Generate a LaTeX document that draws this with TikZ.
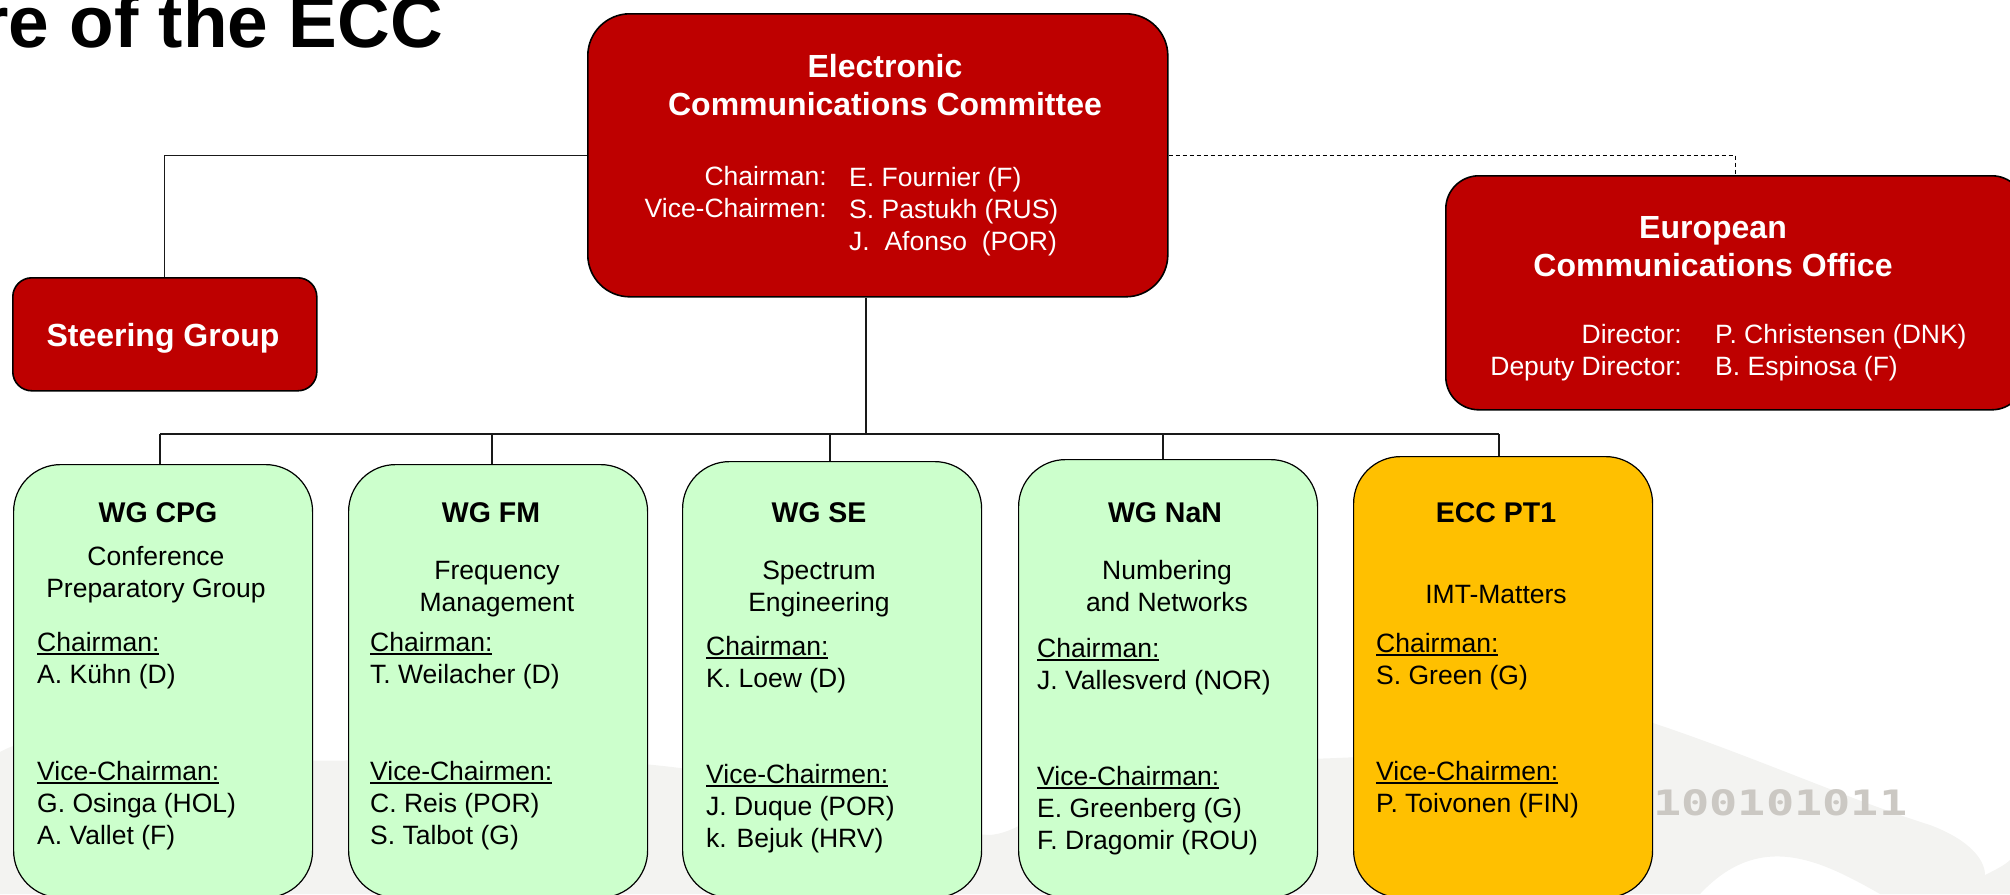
\documentclass[tikz,border=0pt]{standalone}
\usepackage{fontspec}
\setmainfont{Liberation Sans}
\newfontfamily\monofam{DejaVu Sans Mono}
\definecolor{eccred}{HTML}{BE0000}
\definecolor{wggreen}{HTML}{CCFFCC}
\definecolor{ptorange}{HTML}{FFC000}
\definecolor{wavegray}{HTML}{F3F3F1}
\definecolor{bitgray}{HTML}{CBC8C3}
\newcommand\ulined[1]{\setbox0\hbox{#1}\rlap{\raisebox{-3.6pt}{\vrule width\wd0 height 1.7pt depth 0pt}}\box0}
\tikzset{
  x=1pt,y=-1pt,
  redbox/.style={draw=black,line width=1.6pt,fill=eccred,inner sep=0,anchor=north west},
  wgbox/.style={draw=black,line width=1.2pt,fill=wggreen,inner sep=0,anchor=north west,rounded corners=47pt,minimum width=299pt},
  body/.style={inner sep=0,font=\fontsize{26.5}{32}\selectfont},
  head/.style={inner sep=0,anchor=base,font=\fontsize{28.5}{34}\selectfont\bfseries},
  redhead/.style={inner sep=0,anchor=base,text=white,font=\fontsize{32}{38}\selectfont\bfseries},
  tl/.style={body,anchor=base west},
  tr/.style={body,anchor=base east},
  tc/.style={body,anchor=base},
  wtl/.style={tl,text=white},
  wtr/.style={tr,text=white},
  conn/.style={line width=1.2pt,draw=black!90},
  dashconn/.style={line width=1.1pt,draw=black,dash pattern=on 4pt off 3pt},
}
\begin{document}
\begin{tikzpicture}
\path[use as bounding box] (0,0) rectangle (2010,894);
% faint background wave
\fill[wavegray] (0,752) .. controls (30,735) and (60,742) .. (120,750)
  .. controls (300,775) and (500,745) .. (680,768)
  .. controls (800,790) and (900,830) .. (990,835)
  .. controls (1040,830) and (1060,775) .. (1140,765)
  .. controls (1250,755) and (1400,770) .. (1650,722)
  .. controls (1750,755) and (1850,800) .. (1930,825)
  .. controls (1970,840) and (1985,860) .. (1985,875)
  .. controls (1995,870) and (2005,865) .. (2010,860)
  -- (2010,894) -- (1880,894) .. controls (1820,860) and (1760,830) .. (1700,894)
  -- (0,894) -- cycle;
% watermark digits
\node[inner sep=0,anchor=base west,text=bitgray,xscale=1.34,font=\fontsize{35}{35}\selectfont\monofam\bfseries] (bits) at (1653,815) {100101011};
% title
\node[inner sep=0,anchor=base east,font=\fontsize{73}{80}\selectfont\bfseries] (title) at (443,47) {re of the ECC};
% boxes
\node[redbox,rounded corners=42pt,minimum width=580pt,minimum height=283pt] (ecc) at (587,13) {};
\node[redbox,rounded corners=19pt,minimum width=304pt,minimum height=113pt] (sg) at (12,277) {};
\node[redbox,rounded corners=33pt,minimum width=579pt,minimum height=234pt] (eco) at (1445,175) {};
\node[wgbox,minimum height=433pt] (cpg) at (13,464) {};
\node[wgbox,minimum height=433pt] (fm) at (348,464) {};
\node[wgbox,minimum height=436pt] (se) at (682,461) {};
\node[wgbox,minimum height=438pt] (nan) at (1018,459) {};
\node[wgbox,fill=ptorange,minimum height=441pt] (pt) at (1353,456) {};
% connectors
\coordinate (trunk) at (866,434);
\coordinate (busa) at (160,434);
\coordinate (busb) at (492,434);
\coordinate (busc) at (830,434);
\coordinate (busd) at (1163,434);
\coordinate (buse) at (1499,434);
\draw[conn] (ecc.west) -| (sg.north);
\draw[dashconn] (ecc.east) -| (eco.north);
\draw[conn] (ecc.south -| trunk) -- (trunk);
\draw[conn] (busa) -- (buse);
\draw[conn] (busa) -- (cpg.north -| busa);
\draw[conn] (busb) -- (fm.north -| busb);
\draw[conn] (busc) -- (se.north -| busc);
\draw[conn] (busd) -- (nan.north -| busd);
\draw[conn] (buse) -- (pt.north -| buse);
% ECC text
\node[redhead] (e1) at (885,77) {Electronic};
\node[redhead] (e2) at (885,115) {Communications Committee};
\node[wtr] (e3) at (827,185) {Chairman:};
\node[wtr] (e4) at (827,217) {Vice-Chairmen:};
\node[wtl] (e5) at (849,186) {E. Fournier (F)};
\node[wtl] (e6) at (849,218) {S. Pastukh (RUS)};
\node[wtl] (e7) at (849,250) {J.\ \ Afonso\ \ (POR)};
% Steering
\node[redhead] (s1) at (163,346) {Steering Group};
% ECO
\node[redhead] (o1) at (1713,238) {European};
\node[redhead] (o2) at (1713,276) {Communications Office};
\node[wtr] (o3) at (1682,343) {Director:};
\node[wtr] (o4) at (1682,375) {Deputy Director:};
\node[wtl] (o5) at (1715,343) {P. Christensen (DNK)};
\node[wtl] (o6) at (1715,375) {B. Espinosa (F)};
% WG CPG
\node[head] (c1) at (158,522) {WG CPG};
\node[tc] (c2) at (156,565) {Conference};
\node[tc] (c3) at (156,597) {Preparatory Group};
\node[tl] (c4) at (37,651) {\ulined{Chairman:}};
\node[tl] (c5) at (37,683) {A. Kühn (D)};
\node[tl] (c6) at (37,780) {\ulined{Vice-Chairman:}};
\node[tl] (c7) at (37,812) {G. Osinga (HOL)};
\node[tl] (c8) at (37,844) {A. Vallet (F)};
% WG FM
\node[head] (f1) at (491,522) {WG FM};
\node[tc] (f2) at (497,579) {Frequency};
\node[tc] (f3) at (497,611) {Management};
\node[tl] (f4) at (370,651) {\ulined{Chairman:}};
\node[tl] (f5) at (370,683) {T. Weilacher (D)};
\node[tl] (f6) at (370,780) {\ulined{Vice-Chairmen:}};
\node[tl] (f7) at (370,812) {C. Reis (POR)};
\node[tl] (f8) at (370,844) {S. Talbot (G)};
% WG SE
\node[head] (g1) at (819,522) {WG SE};
\node[tc] (g2) at (819,579) {Spectrum};
\node[tc] (g3) at (819,611) {Engineering};
\node[tl] (g4) at (706,655) {\ulined{Chairman:}};
\node[tl] (g5) at (706,687) {K. Loew (D)};
\node[tl] (g6) at (706,783) {\ulined{Vice-Chairmen:}};
\node[tl] (g7) at (706,815) {J. Duque (POR)};
\node[tl] (g8) at (706,847) {k. Bejuk (HRV)};
% WG NaN
\node[head] (n1) at (1165,522) {WG NaN};
\node[tc] (n2) at (1167,579) {Numbering};
\node[tc] (n3) at (1167,611) {and Networks};
\node[tl] (n4) at (1037,657) {\ulined{Chairman:}};
\node[tl] (n5) at (1037,689) {J. Vallesverd (NOR)};
\node[tl] (n6) at (1037,785) {\ulined{Vice-Chairman:}};
\node[tl] (n7) at (1037,817) {E. Greenberg (G)};
\node[tl] (n8) at (1037,849) {F. Dragomir (ROU)};
% ECC PT1
\node[head] (p1) at (1496,522) {ECC PT1};
\node[tc] (p2) at (1496,603) {IMT-Matters};
\node[tl] (p4) at (1376,652) {\ulined{Chairman:}};
\node[tl] (p5) at (1376,684) {S. Green (G)};
\node[tl] (p6) at (1376,780) {\ulined{Vice-Chairmen:}};
\node[tl] (p7) at (1376,812) {P. Toivonen (FIN)};
\end{tikzpicture}
\end{document}
